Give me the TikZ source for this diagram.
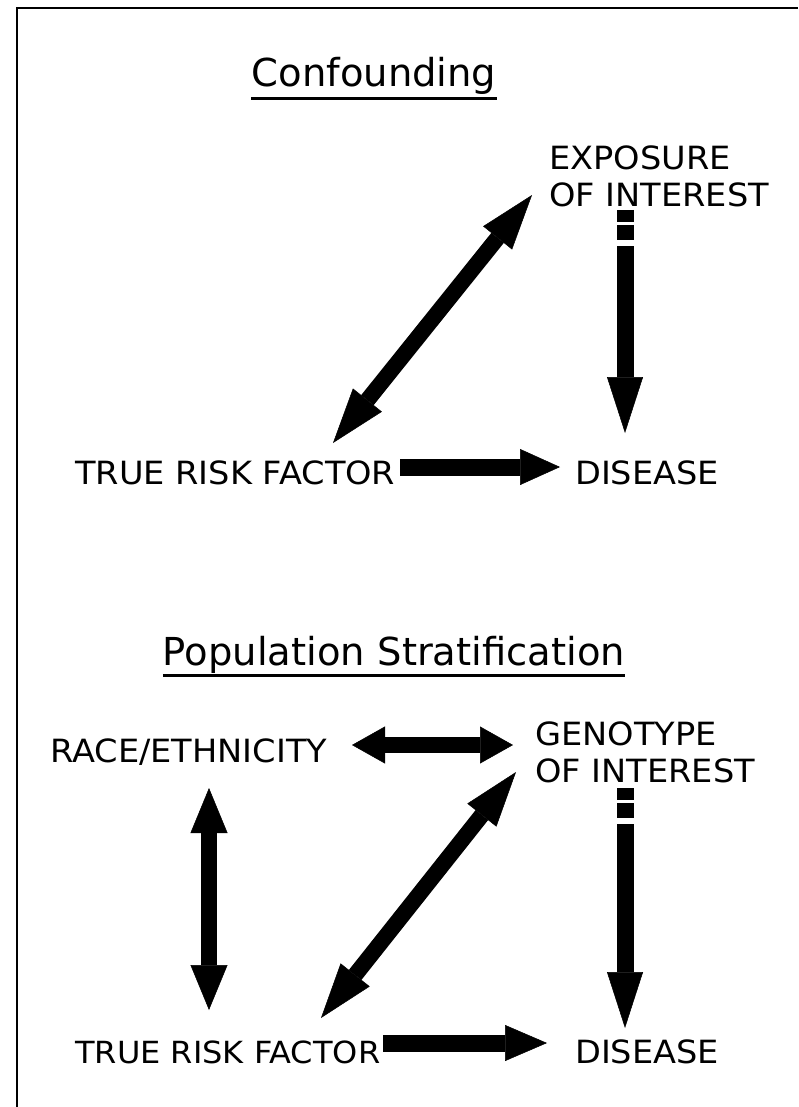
\documentclass[tikz,border=0pt]{standalone}
\usepackage{fontspec}
\newfontfamily\titlefont{DejaVu Sans}
\newfontfamily\labelfont{DejaVu Sans}[FakeStretch=1.05]
\usetikzlibrary{arrows.meta}
\tikzset{
	lbl/.style={inner sep=0pt, font=\labelfont\fontsize{32}{37}\selectfont, align=left},
	ttl/.style={inner sep=0pt, anchor=base, font=\titlefont\fontsize{38.5}{44}\selectfont},
	uline/.style={line width=3pt},
	fat/.style={line width=17pt, -{Triangle[width=36pt,length=#1,line width=0.5pt]}},
	twohead/.style={line width=16pt, {Triangle[width=37pt,length=#1,line width=0.5pt]}-{Triangle[width=37pt,length=#1,line width=0.5pt]}},
	broken/.style={dash pattern=on 12pt off 3pt on 15pt off 6pt on 2000pt}
}

\begin{document}
\begin{tikzpicture}[x=1pt,y=-1pt]
	\useasboundingbox (0,0) rectangle (798,1107);
	%%%%% FRAME %%%%%
	\draw[line width=2.5pt] (17,1107) -- (17,8) -- (798,8);
	
	%%%%% CONFOUNDING %%%%%
	\node[ttl] (conf) at (374,87) {Confounding};
	\draw[uline] ([yshift=-12pt]conf.base west) -- ([yshift=-12pt]conf.base east);
	
	\node[lbl, anchor=north west] (expo) at (549,146) {EXPOSURE\\OF INTEREST};
	\node[lbl, anchor=base west] (risk) at (75,484) {TRUE RISK FACTOR};
	\node[lbl, anchor=base west] (dis) at (575,484) {DISEASE};
	
	\draw[twohead=55pt] ([xshift=258pt,yshift=41pt]risk.base west) -- ([xshift=-17pt,yshift=-49pt]expo.north west);
	\draw[fat=40pt] ([xshift=325pt,yshift=17pt]risk.base west) -- ([xshift=-15pt,yshift=17pt]dis.base west);
	\draw[fat=56pt, broken] ([xshift=76pt,yshift=-64pt]expo.north west) -- ([xshift=50pt,yshift=51pt]dis.base west);
	
	%%%%% POPULATION STRATIFICATION %%%%%
	\node[ttl] (pop) at (394,665) {Population Stratification};
	\draw[uline] ([yshift=-10pt]pop.base west) -- ([yshift=-10pt]pop.base east);
	
	\node[lbl, anchor=base west] (race) at (50,762) {RACE/ETHNICITY};
	\node[lbl, anchor=north west] (geno) at (535,722) {GENOTYPE\\OF INTEREST};
	\node[lbl, anchor=base west, font=\labelfont\fontsize{30.5}{37}\selectfont] (risk2) at (75,1063) {TRUE RISK FACTOR};
	\node[lbl, anchor=base west] (dis2) at (575,1063) {DISEASE};
	
	\draw[twohead=33pt] ([xshift=302pt,yshift=17pt]race.base west) -- ([xshift=-22pt,yshift=-23pt]geno.north west);
	\draw[twohead=45pt] ([xshift=159pt,yshift=-26pt]race.base west) -- ([xshift=134pt,yshift=53pt]risk2.base west);
	\draw[twohead=55pt] ([xshift=246pt,yshift=45pt]risk2.base west) -- ([xshift=-19pt,yshift=-50pt]geno.north west);
	\draw[fat=42pt] ([xshift=308pt,yshift=20pt]risk2.base west) -- ([xshift=-28pt,yshift=20pt]dis2.base west);
	\draw[fat=56pt, broken] ([xshift=90pt,yshift=-66pt]geno.north west) -- ([xshift=50pt,yshift=35pt]dis2.base west);
\end{tikzpicture}
\end{document}
